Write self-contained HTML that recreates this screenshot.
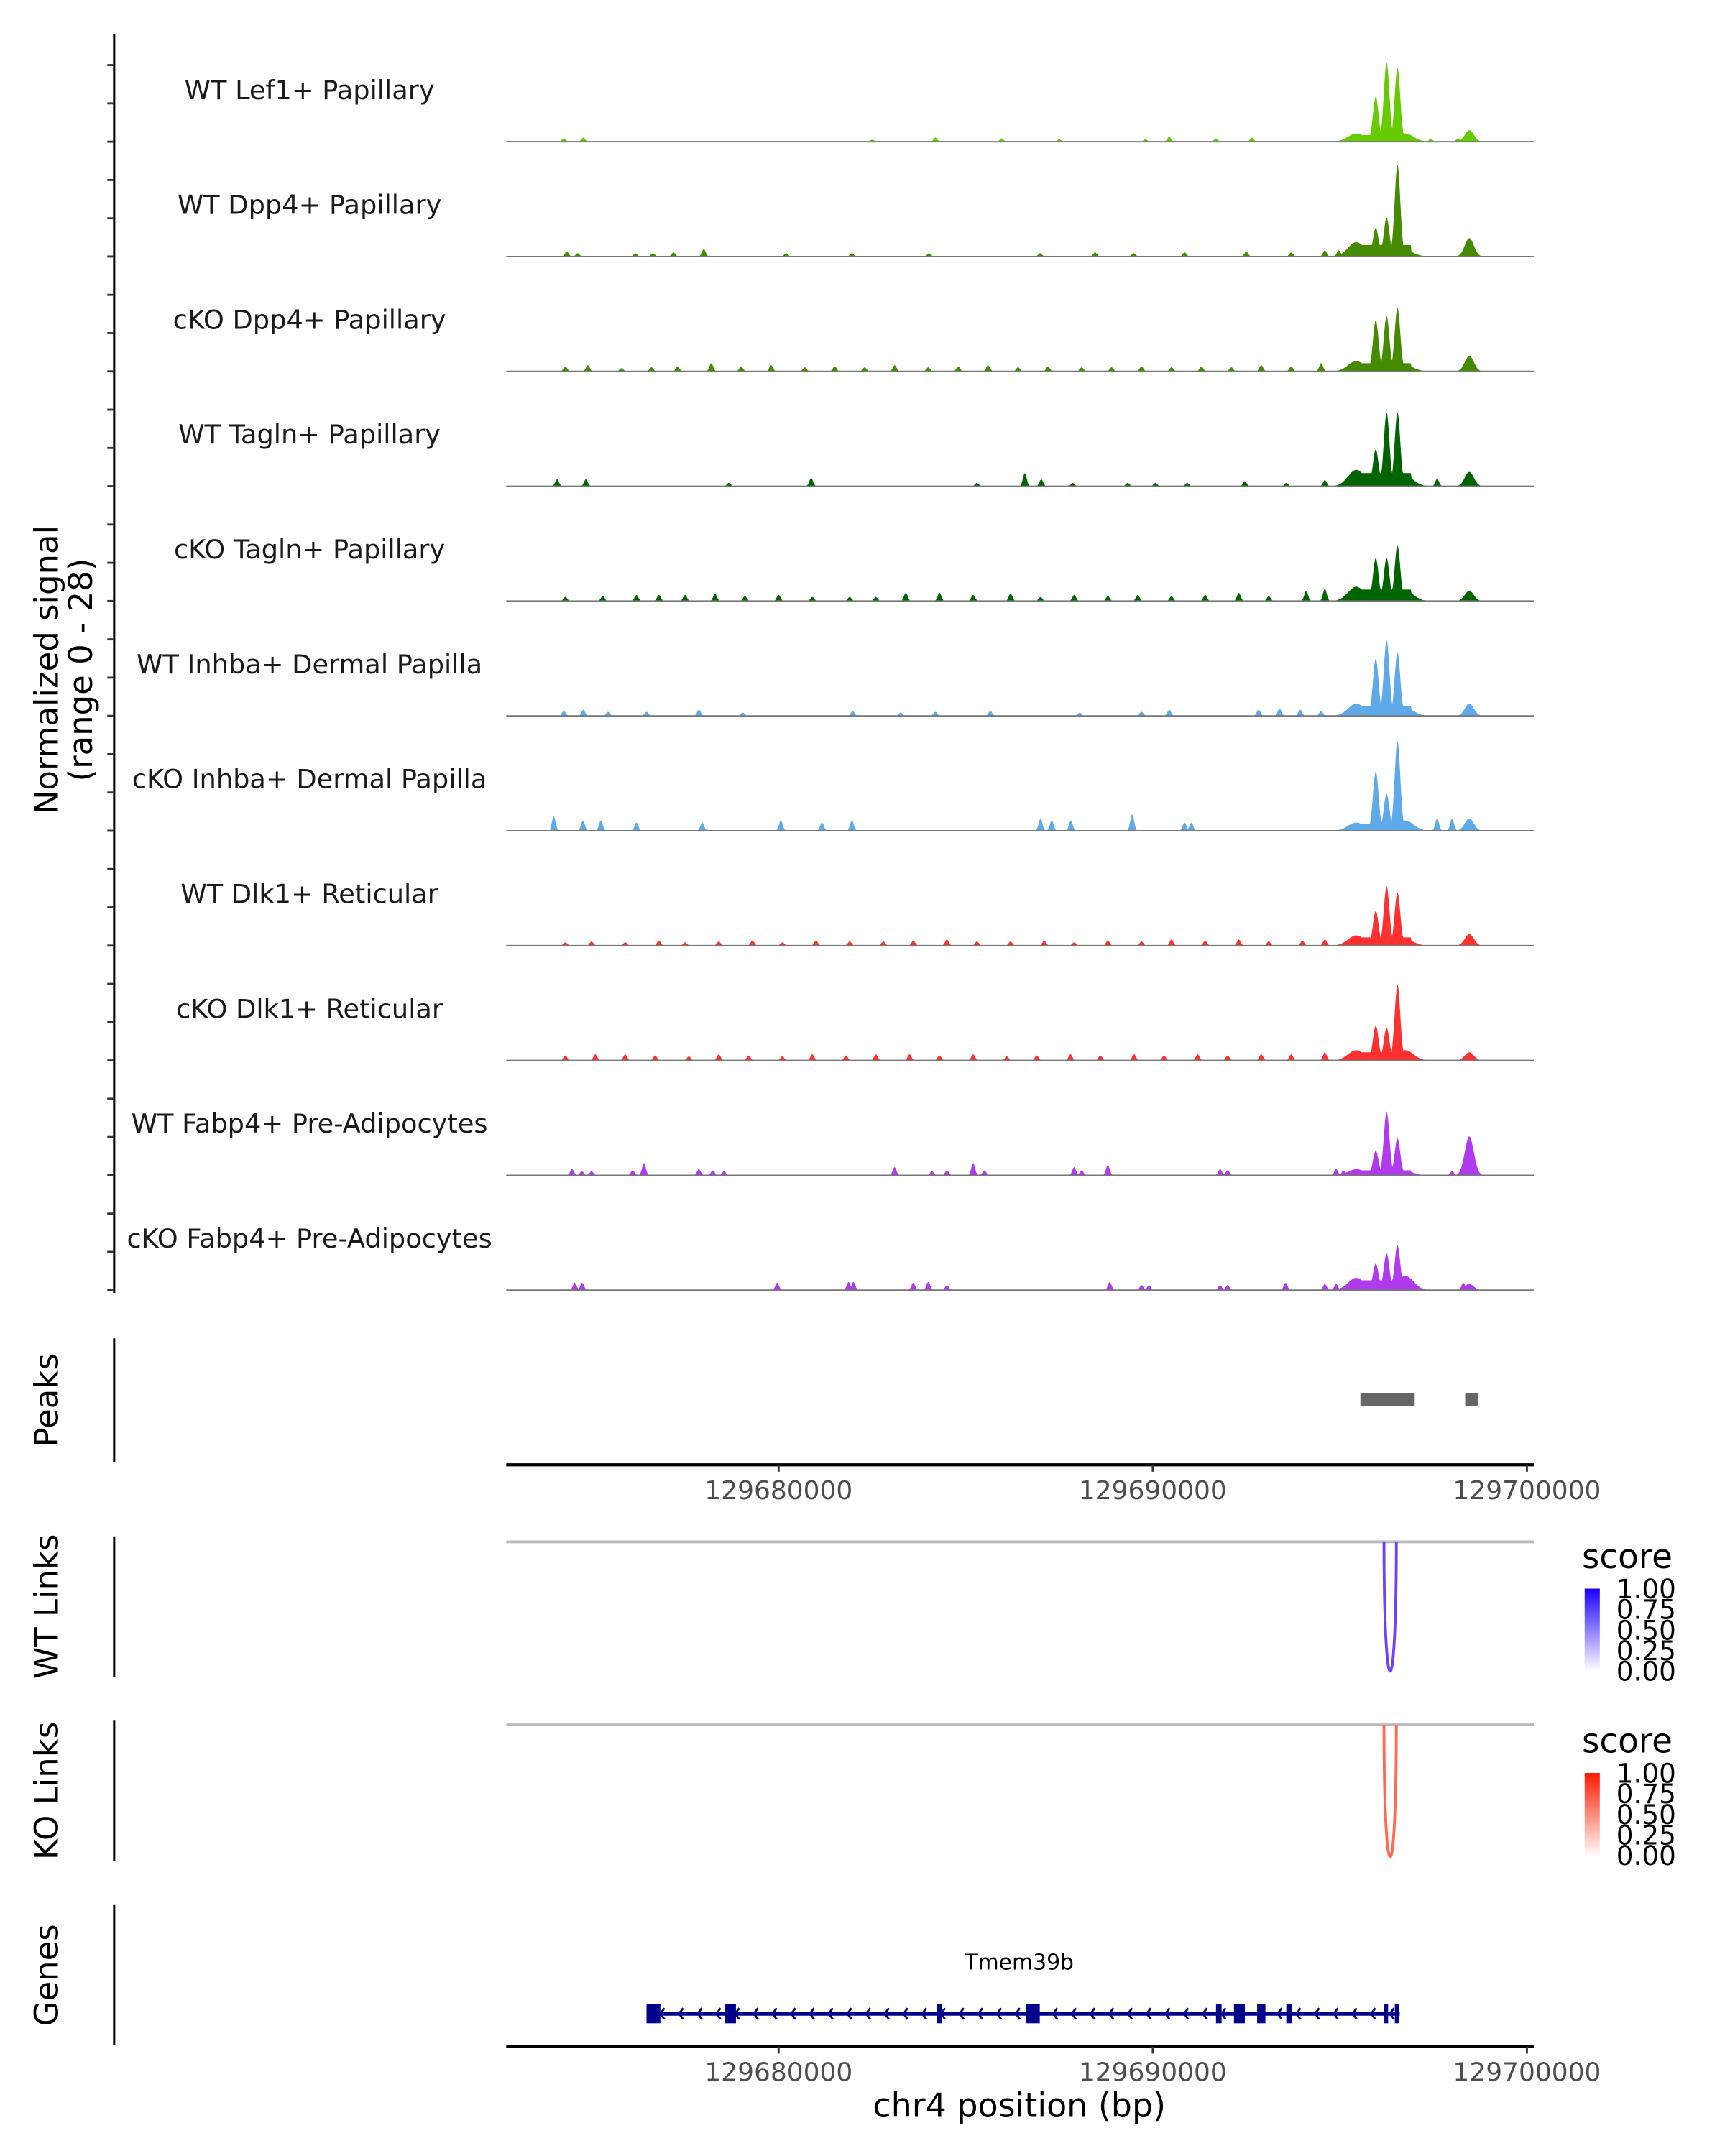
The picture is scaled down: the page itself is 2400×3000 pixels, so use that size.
<!DOCTYPE html>
<html><head><meta charset="utf-8"><style>
html,body{margin:0;padding:0;background:#fff;}
svg{display:block;font-family:"DejaVu Sans","Liberation Sans",sans-serif;}
</style></head><body>
<svg id="chart" width="2400" height="3000" viewBox="0 0 1254 1567.5" preserveAspectRatio="none" xmlns="http://www.w3.org/2000/svg">
<g id="tracks"></g>
<line x1="83" y1="25" x2="83" y2="940" stroke="#000" stroke-width="1.6"/>
<g id="yticks"></g>
<text transform="translate(42,487) rotate(-90)" text-anchor="middle" font-size="23.5" fill="#000">Normalized signal</text>
<text transform="translate(67,487) rotate(-90)" text-anchor="middle" font-size="23.5" fill="#000">(range 0 - 28)</text>
<line x1="83" y1="973" x2="83" y2="1063" stroke="#000" stroke-width="1.6"/>
<text transform="translate(42,1018) rotate(-90)" text-anchor="middle" font-size="23.5">Peaks</text>
<g id="peaks"></g>
<g id="xaxis1"></g>
<line x1="83" y1="1117" x2="83" y2="1219" stroke="#000" stroke-width="1.6"/>
<text transform="translate(42,1168) rotate(-90)" text-anchor="middle" font-size="23.5">WT Links</text>
<line x1="83" y1="1251" x2="83" y2="1353" stroke="#000" stroke-width="1.6"/>
<text transform="translate(42,1302) rotate(-90)" text-anchor="middle" font-size="23.5">KO Links</text>
<g id="links"></g>
<defs>
<linearGradient id="gb" x1="0" y1="1" x2="0" y2="0"><stop offset="0" stop-color="#ffffff"/><stop offset="1" stop-color="#1a00ff"/></linearGradient>
<linearGradient id="gr" x1="0" y1="1" x2="0" y2="0"><stop offset="0" stop-color="#ffffff"/><stop offset="1" stop-color="#ff1a00"/></linearGradient>
</defs>
<g>
<text x="1150" y="1140" font-size="24.5">score</text>
<rect x="1152" y="1155" width="11" height="60" fill="url(#gb)"/>
<g font-size="19.5"><text x="1175" y="1162">1.00</text><text x="1175" y="1177">0.75</text><text x="1175" y="1192">0.50</text><text x="1175" y="1207">0.25</text><text x="1175" y="1222">0.00</text></g>
</g>
<g>
<text x="1150" y="1274" font-size="24.5">score</text>
<rect x="1152" y="1289" width="11" height="61" fill="url(#gr)"/>
<g font-size="19.5"><text x="1175" y="1296">1.00</text><text x="1175" y="1311">0.75</text><text x="1175" y="1326">0.50</text><text x="1175" y="1341">0.25</text><text x="1175" y="1356">0.00</text></g>
</g>
<line x1="83" y1="1385" x2="83" y2="1487" stroke="#000" stroke-width="1.6"/>
<text transform="translate(42,1436) rotate(-90)" text-anchor="middle" font-size="23.5">Genes</text>
<g id="genes"></g>
<g id="xaxis2"></g>
<text x="741" y="1539" text-anchor="middle" font-size="24">chr4 position (bp)</text>
</svg>
<script>
// data (positions in kb relative to 129670000)
const trackNames = ["WT Lef1+ Papillary","WT Dpp4+ Papillary","cKO Dpp4+ Papillary","WT Tagln+ Papillary","cKO Tagln+ Papillary","WT Inhba+ Dermal Papilla","cKO Inhba+ Dermal Papilla","WT Dlk1+ Reticular","cKO Dlk1+ Reticular","WT Fabp4+ Pre-Adipocytes","cKO Fabp4+ Pre-Adipocytes"];
const trackColors = ["#66cc00","#458b00","#458b00","#006400","#006400","#5eaae8","#5eaae8","#ff3030","#ff3030","#b23aee","#b23aee"];
const mainPos = [25.44, 25.96, 26.25, 26.54, 26.75, 28.46];
const mainHeights = [
 [2.0, 11.0, 19.3, 18.0, 2.0, 2.8],
 [3.5, 7.0, 9.5, 22.5, 1.5, 4.5],
 [2.5, 12.5, 13.5, 15.5, 1.5, 3.8],
 [4.0, 9.0, 18.0, 18.0, 2.5, 3.5],
 [3.5, 10.5, 10.5, 13.5, 2.5, 2.5],
 [3.0, 14.0, 18.5, 15.5, 2.0, 3.0],
 [2.0, 14.5, 9.0, 22.0, 2.5, 3.0],
 [2.5, 8.5, 14.5, 13.0, 1.5, 2.8],
 [2.5, 8.5, 8.0, 18.5, 2.5, 2.0],
 [1.5, 6.0, 15.5, 9.0, 1.0, 9.5],
 [3.0, 6.5, 9.0, 11.0, 3.5, 1.5]
];
const smallPos = [
 [4.26,4.78,14.19,15.96,20.44,21.69,22.65,27.43,28.16,17.5,19.8,12.5],
 [4.34,4.63,6.17,6.64,7.19,8.0,10.2,11.96,14.02,16.99,18.46,19.49,20.85,22.5,23.7,24.6,24.97],
 [4.3,4.9,5.8,6.6,7.3,8.2,9.0,9.8,10.7,11.5,12.3,13.1,14.0,14.8,15.6,16.4,17.2,18.1,18.9,19.7,20.5,21.3,22.1,22.9,23.7,24.5],
 [4.08,4.85,8.67,10.87,15.3,16.58,17.02,17.86,19.33,20.07,20.92,22.46,23.57,24.6,27.6],
 [4.3,5.3,6.2,6.8,7.5,8.3,9.1,10.0,10.9,11.9,12.6,13.4,14.3,15.2,16.2,17.0,17.9,18.8,19.6,20.5,21.4,22.3,23.1,24.1,24.6],
 [4.26,4.78,5.44,6.47,7.87,9.04,11.98,13.26,14.19,15.66,18.05,19.7,20.44,22.83,23.39,23.94,24.5],
 [3.99,4.77,5.25,6.2,7.96,10.06,11.16,11.96,17.0,17.3,17.81,19.45,20.85,21.03,27.6,28.0],
 [4.3,5.0,5.9,6.8,7.5,8.4,9.3,10.1,11.0,11.9,12.8,13.6,14.5,15.3,16.2,17.1,17.9,18.8,19.7,20.5,21.4,22.3,23.1,24.0,24.6],
 [4.3,5.1,5.9,6.7,7.6,8.4,9.2,10.1,10.9,11.8,12.6,13.5,14.3,15.2,16.1,16.9,17.8,18.6,19.5,20.3,21.2,22.0,22.9,23.7,24.6],
 [4.48,4.74,5.0,6.1,6.4,7.87,8.24,8.54,13.1,14.1,14.5,15.2,15.5,17.9,18.1,18.8,21.8,22.0,24.9,25.1,28.0],
 [4.55,4.75,9.96,11.87,12.0,13.6,14.0,14.5,18.85,19.7,19.9,21.8,22.0,23.55,24.6,24.9,25.2,28.3]
];
const smallHeights = [
 [0.8,1.0,1.0,0.8,1.2,0.8,1.0,0.7,0.8,0.6,0.6,0.5],
 [1.2,0.8,0.8,0.8,1.0,1.8,0.8,0.8,0.8,0.8,1.0,0.8,1.0,1.2,1.0,1.5,1.5],
 [1.2,1.5,0.8,1.0,1.2,2.0,1.2,1.5,1.0,1.2,1.0,1.5,1.0,1.2,1.5,1.0,1.2,1.0,1.0,1.2,1.0,1.2,1.0,1.5,1.2,2.0],
 [1.7,1.7,0.8,2.0,0.8,3.2,1.7,0.8,0.8,0.8,0.8,1.2,0.8,1.5,1.8],
 [1.0,1.2,1.5,1.5,1.5,1.8,1.2,1.5,1.0,1.0,1.0,2.0,2.0,1.5,1.8,1.0,1.5,1.2,1.5,1.2,1.5,2.0,1.2,2.5,3.0],
 [1.2,1.5,1.0,1.0,1.5,0.8,1.2,0.8,1.0,1.2,0.8,1.0,1.5,1.5,1.8,1.5,1.2],
 [3.5,2.5,2.5,2.0,2.0,2.5,2.0,2.5,3.0,2.5,2.5,4.0,2.0,2.0,3.0,3.0],
 [0.8,1.0,0.8,1.2,0.8,1.0,1.2,0.8,1.2,1.0,1.0,1.2,1.5,1.0,1.0,1.2,0.8,1.2,1.0,1.5,1.2,1.5,1.0,1.2,1.5],
 [1.2,1.5,1.5,1.2,1.0,1.5,1.2,1.0,1.5,1.2,1.5,1.5,1.2,1.5,1.0,1.2,1.5,1.2,1.5,1.2,1.5,1.2,1.5,1.5,2.0],
 [1.5,1.0,1.0,1.2,3.0,1.5,1.2,1.0,2.0,1.0,1.2,3.0,1.2,2.0,1.2,2.5,1.5,1.2,1.5,1.2,1.0],
 [1.8,1.8,1.8,2.0,2.0,1.8,2.0,1.2,2.0,1.2,1.2,1.2,1.2,1.8,1.5,1.5,1.5,1.8]
];
const peakStarts = [25.55, 28.35];
const peakEnds = [27.0, 28.7];
const xTicks = [10, 20, 30];
const xTickLabels = ["129680000","129690000","129700000"];
const exonStarts = [6.47,8.57,14.23,16.62,21.69,22.17,22.79,23.57,26.18,26.47];
const exonEnds = [6.84,8.86,14.37,16.98,21.84,22.46,23.01,23.71,26.29,26.54];
const geneStart = 6.47, geneEnd = 26.6;
const linkStart = [26.18], linkEnd = [26.51];

const NS = "http://www.w3.org/2000/svg";
const X0 = 368, X1 = 1115, KB0 = 2.72, PXKB = 27.2;
const xs = kb => X0 + (kb - KB0) * PXKB;
const kbOf = px => KB0 + (px - X0) / PXKB;
const TRACK_H = 83.5, BASE0 = 103, YMAX = 28;
function mk(tag, attrs, parent){const e=document.createElementNS(NS,tag);for(const k in attrs)e.setAttribute(k,attrs[k]);parent.appendChild(e);return e;}

const tracksG = document.getElementById('tracks');
const yt = document.getElementById('yticks');
for (let t = 0; t < trackNames.length; t++) {
  const base = BASE0 + t * TRACK_H;
  const ys = v => base - v / YMAX * TRACK_H;
  const g = mk('g', {}, tracksG);
  
  
  let d = 'M' + xs(3.9) + ' ' + base;
  const left = xs(3.9), right = xs(29.0);
  for (let px = left; px <= right; px += 0.5) {
    const kb = kbOf(px);
    let v = 0;
    for (let i = 0; i < mainPos.length; i++) {
      const w = (i === 4 || i === 0) ? 0.22 : (i === 5 ? 0.12 : 0.075);
      const dd = (kb - mainPos[i]) / w;
      v = Math.max(v, mainHeights[t][i] * Math.exp(-dd * dd * 0.5));
    }
    if (kb > 25.3 && kb < 26.9) v = Math.max(v, mainHeights[t][0] * 0.8);
    for (let i = 0; i < smallPos[t].length; i++) {
      const dd = (kb - smallPos[t][i]) / 0.05;
      v = Math.max(v, smallHeights[t][i] * Math.exp(-dd * dd * 0.5));
    }
    if (v < 0.15) v = 0;
    d += ' L' + px.toFixed(1) + ' ' + ys(v).toFixed(2);
  }
  d += ' L' + right + ' ' + base + ' Z';
  const p = mk('path', {d: d, fill: trackColors[t]}, g);
  
  
  const bl = mk('line', {x1: X0, x2: X1, y1: base, y2: base, stroke: '#777', 'stroke-width': 1}, g);
  
  
  const lab = mk('text', {x: 225, y: base - 31, 'text-anchor': 'middle', 'font-size': 19.2, fill: '#1a1a1a'}, g);
  lab.textContent = trackNames[t];
  
  
  for (let k = 0; k < 3; k++) {
    const y = base - k * TRACK_H / 3;
    const tk = mk('line', {x1: 78, x2: 83, y1: y, y2: y, stroke: '#333', 'stroke-width': 1.5}, yt);
    
    
  }
}
const pk = document.getElementById('peaks');
for (let i = 0; i < peakStarts.length; i++) {
  const r = mk('rect', {x: xs(peakStarts[i]), y: 1013, width: xs(peakEnds[i]) - xs(peakStarts[i]), height: 9, fill: '#666'}, pk);
  
  
}
function axis(id, y, ly) {
  const g = document.getElementById(id);
  const l = mk('line', {x1: X0, x2: X1, y1: y, y2: y, stroke: '#000', 'stroke-width': 2.2}, g);
  
  
  for (let i = 0; i < xTicks.length; i++) {
    const x = xs(xTicks[i]);
    const tk = mk('line', {x1: x, x2: x, y1: y, y2: y + 5, stroke: '#333', 'stroke-width': 1.5}, g);
    
    
    const tx = mk('text', {x: x, y: ly, 'text-anchor': 'middle', 'font-size': 18.8, fill: '#4d4d4d'}, g);
    tx.textContent = xTickLabels[i];
    
    
  }
}
axis('xaxis1', 1065, 1090);
axis('xaxis2', 1488, 1513);
const lg = document.getElementById('links');
const linkTracks = [[1121, 1215, '#7040ff'], [1254, 1350, '#ff6a50']];
for (const [top, bot, col] of linkTracks) {
  const gl = mk('line', {x1: X0, x2: X1, y1: top, y2: top, stroke: '#bbb', 'stroke-width': 2}, lg);
  
  
  for (let i = 0; i < linkStart.length; i++) {
    const a = xs(linkStart[i]), b = xs(linkEnd[i]);
    const depth = (bot - top) * 4 / 3;
    const p = mk('path', {d: `M${a} ${top} C${a} ${top + depth} ${b} ${top + depth} ${b} ${top}`, fill: 'none', stroke: col, 'stroke-width': 2}, lg);
    
    
  }
}
const gg = document.getElementById('genes');
const gy = 1464;
const gl = mk('line', {x1: xs(geneStart), x2: xs(geneEnd), y1: gy, y2: gy, stroke: '#00008b', 'stroke-width': 3}, gg);


for (let px = xs(geneStart) + 10; px < xs(geneEnd) - 6; px += 13.6) {
  const ar = mk('path', {d: `M${px + 3} ${gy - 4} L${px} ${gy} L${px + 3} ${gy + 4}`, fill: 'none', stroke: '#00008b', 'stroke-width': 1.5}, gg);
  
  
}
for (let i = 0; i < exonStarts.length; i++) {
  const w = Math.max(3, xs(exonEnds[i]) - xs(exonStarts[i]));
  const r = mk('rect', {x: xs(exonStarts[i]), y: gy - 7, width: w, height: 14, fill: '#00008b'}, gg);
  
  
}
const gn = mk('text', {x: 741, y: 1432, 'text-anchor': 'middle', 'font-size': 15.6, fill: '#000'}, gg);
gn.textContent = 'Tmem39b';


</script>
</body></html>
